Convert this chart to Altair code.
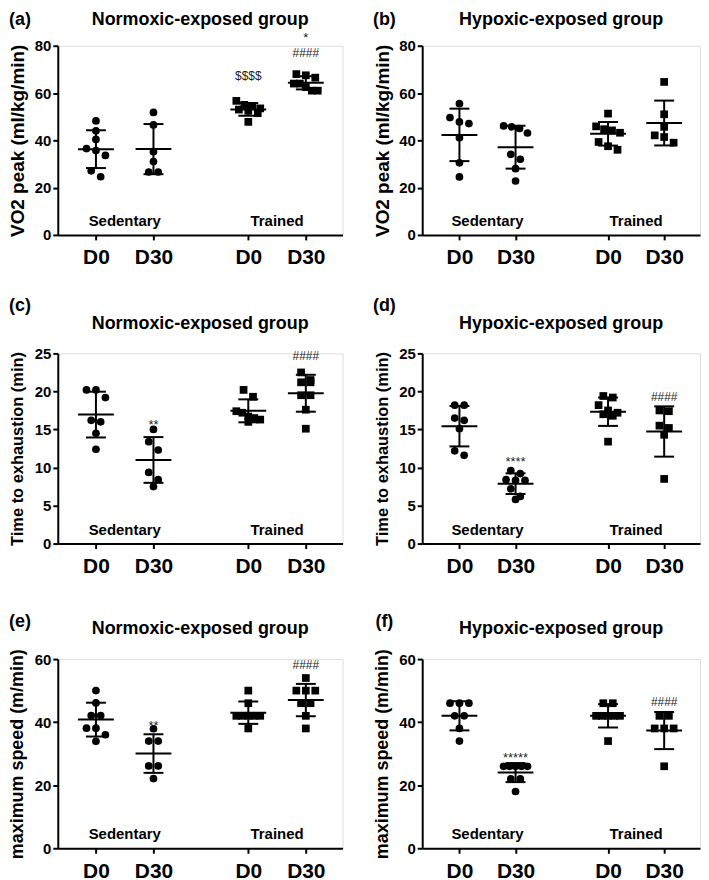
import altair as alt
import numpy as np
import pandas as pd

FONT = "Liberation Sans"

# ---------------- data ----------------
# (a) VO2 peak, normoxic-exposed group
vo2_n_sed_d0 = [48.2, 44.0, 40.4, 36.5, 35.7, 33.6, 27.1, 24.6]
vo2_n_sed_d30 = [51.8, 46.5, 35.2, 31.0, 26.6, 26.6]
vo2_n_tr_d0 = [56.7, 55.0, 54.5, 53.5, 53.0, 52.5, 51.5, 47.8]
vo2_n_tr_d30 = [68.0, 67.5, 66.5, 64.0, 64.0, 62.5, 61.0, 61.0]
# (b) VO2 peak, hypoxic-exposed group
vo2_h_sed_d0 = [55.5, 49.6, 47.8, 47.1, 41.1, 30.5, 24.5]
vo2_h_sed_d30 = [46.1, 45.7, 45.0, 43.1, 34.1, 32.0, 28.0, 22.8]
vo2_h_tr_d0 = [51.3, 45.9, 44.7, 44.2, 43.2, 39.3, 37.5, 36.0]
vo2_h_tr_d30 = [64.7, 51.0, 45.7, 42.1, 41.4, 39.0]
# (c) time to exhaustion, normoxic
tte_n_sed_d0 = [20.2, 20.2, 19.2, 16.2, 16.0, 14.5, 12.4]
tte_n_sed_d30 = [15.0, 13.4, 12.3, 9.35, 8.4, 7.5]
tte_n_tr_d0 = [20.2, 19.3, 17.4, 17.2, 16.7, 16.5, 16.3, 16.0]
tte_n_tr_d30 = [22.5, 21.5, 21.2, 21.2, 19.5, 19.5, 17.6, 15.1]
# (d) time to exhaustion, hypoxic
tte_h_sed_d0 = [18.2, 18.2, 16.5, 16.2, 15.1, 12.2, 11.6]
tte_h_sed_d30 = [9.6, 9.2, 8.4, 8.3, 8.3, 7.2, 6.2, 5.8]
tte_h_tr_d0 = [19.4, 19.2, 18.2, 17.5, 17.2, 17.0, 16.8, 13.4]
tte_h_tr_d30 = [17.5, 17.4, 15.5, 15.2, 14.3, 8.5]
# (e) maximum speed, normoxic
spd_n_sed_d0 = [50.0, 46.1, 42.1, 42.1, 38.1, 38.1, 36.0, 33.9]
spd_n_sed_d30 = [37.9, 34.0, 34.0, 26.1, 26.1, 22.1]
spd_n_tr_d0 = [50.0, 46.0, 42.0, 42.0, 42.0, 42.0, 42.0, 38.0]
spd_n_tr_d30 = [54.0, 50.0, 50.0, 50.0, 46.0, 46.0, 42.0, 38.0]
# (f) maximum speed, hypoxic
spd_h_sed_d0 = [46.0, 46.0, 46.0, 42.0, 42.0, 38.0, 34.0]
spd_h_sed_d30 = [26.0, 26.0, 26.0, 26.0, 26.0, 22.0, 22.0, 18.0]
spd_h_tr_d0 = [46.0, 46.0, 42.0, 42.0, 42.0, 42.0, 42.0, 34.0]
spd_h_tr_d30 = [42.0, 42.0, 38.0, 38.0, 38.0, 26.0]

# significance annotations: (group, text, y value)
ann_a = [("tr_d0", "$$$$", 67.0), ("tr_d30", "####", 77.0), ("tr_d30", "*", 85.0)]
ann_b = []
ann_c = [("sed_d30", "**", 16.1), ("tr_d30", "####", 24.6)]
ann_d = [("sed_d30", "****", 11.3), ("tr_d30", "####", 19.3)]
ann_e = [("sed_d30", "**", 40.0), ("tr_d30", "####", 58.1)]
ann_f = [("sed_d30", "*****", 29.8), ("tr_d30", "####", 46.3)]

titles = {"n": "Normoxic-exposed group", "h": "Hypoxic-exposed group"}
group_labels = ["Sedentary", "Trained"]
tick_text = {"sed_d0": "D0", "sed_d30": "D30", "tr_d0": "D0", "tr_d30": "D30"}

# ---------------- layout helpers ----------------
GROUP_KEYS = ["sed_d0", "sed_d30", "tr_d0", "tr_d30"]
GROUP_POS = {"sed_d0": 13.4, "sed_d30": 33.6, "tr_d0": 66.9, "tr_d30": 87.1}
MEAN_HALF = 18.0   # px
CAP_HALF = 10.0    # px


def swarm(values, ymax, height, width, thr=8.5, step_px=9.5, max_half=12.0):
    ppu = height / ymax
    xu = 100.0 / width
    order = sorted(range(len(values)), key=lambda i: -values[i])
    rows, cur = [], [order[0]]
    for i in order[1:]:
        if (values[cur[0]] - values[i]) * ppu < thr:
            cur.append(i)
        else:
            rows.append(cur)
            cur = [i]
    rows.append(cur)
    offs = [0.0] * len(values)
    for row in rows:
        n = len(row)
        step = step_px if n <= 3 else min(step_px, 2 * max_half / (n - 1))
        for j, i in enumerate(row):
            offs[i] = (j - (n - 1) / 2.0) * step * xu
    return offs


def panel(groups, ymax, ystep, ytitle, ytitle_size, title, title_y, letter, letter_y,
          annots, width, height):
    pts, stats = [], []
    for key in GROUP_KEYS:
        vals = groups[key]
        offs = swarm(vals, ymax, height, width)
        kind = "Sedentary" if key.startswith("sed") else "Trained"
        for v, o in zip(vals, offs):
            pts.append({"kind": kind, "x": GROUP_POS[key] + o, "value": v})
        m = float(np.mean(vals))
        s = float(np.std(vals, ddof=1))
        p = GROUP_POS[key]
        stats.append({"pos": p, "mean": m, "lo": m - s, "hi": m + s,
                      "ml": p - MEAN_HALF * 100 / width, "mr": p + MEAN_HALF * 100 / width,
                      "cl": p - CAP_HALF * 100 / width, "cr": p + CAP_HALF * 100 / width})
    pts = pd.DataFrame(pts)
    st = pd.DataFrame(stats)

    xscale = alt.Scale(domain=[0, 100], nice=False, zero=False)
    xaxis = alt.Axis(values=[GROUP_POS[k] for k in GROUP_KEYS],
                     labelExpr="(datum.value < 20 || (datum.value > 50 && datum.value < 75)) ? 'D0' : 'D30'",
                     title=None, labelFontSize=21, labelPadding=7, labelFont=FONT,
                     labelFontWeight="bold", labelColor="black", tickSize=5,
                     tickWidth=2, tickColor="black", domainWidth=2, domainColor="black",
                     grid=False)
    yscale = alt.Scale(domain=[0, ymax], nice=False, zero=True)
    yaxis = alt.Axis(values=list(range(0, ymax + 1, ystep)), title=ytitle,
                     titleFontSize=ytitle_size, titleFont=FONT, titleFontWeight="bold",
                     titleColor="black", titleAngle=270, titleX=-40, titleY=height / 2,
                     titleAlign="center", titleBaseline="middle",
                     labelFontSize=15, labelFont=FONT, labelFontWeight="bold",
                     labelColor="black", labelPadding=2, tickSize=5, tickWidth=2,
                     tickColor="black", domainWidth=2, domainColor="black", grid=False)

    def X(f):
        return alt.X(f"{f}:Q", scale=xscale, axis=xaxis)

    def Y(f):
        return alt.Y(f"{f}:Q", scale=yscale, axis=yaxis)

    points = alt.Chart(pts).mark_point(filled=True, opacity=1, size=60, color="black").encode(
        x=X("x"), y=Y("value"),
        shape=alt.Shape("kind:N", scale=alt.Scale(domain=group_labels, range=["circle", "square"]),
                        legend=None))
    mean_rule = alt.Chart(st).mark_rule(strokeWidth=2, color="black").encode(
        x=X("ml"), x2="mr", y=Y("mean"))
    sd_rule = alt.Chart(st).mark_rule(strokeWidth=2, color="black").encode(
        x=X("pos"), y=Y("lo"), y2="hi")
    cap_lo = alt.Chart(st).mark_rule(strokeWidth=2, color="black").encode(
        x=X("cl"), x2="cr", y=Y("lo"))
    cap_hi = alt.Chart(st).mark_rule(strokeWidth=2, color="black").encode(
        x=X("cl"), x2="cr", y=Y("hi"))

    gl = pd.DataFrame({"label": group_labels,
                       "xm": [(GROUP_POS["sed_d0"] + GROUP_POS["sed_d30"]) / 2,
                              (GROUP_POS["tr_d0"] + GROUP_POS["tr_d30"]) / 2]})
    glabels = alt.Chart(gl).mark_text(font=FONT, fontSize=15, fontWeight="bold",
                                      color="black", baseline="middle").encode(
        x=X("xm"), y=alt.value(height - 14), text="label:N")

    layers = [points, mean_rule, sd_rule, cap_lo, cap_hi, glabels]

    if annots:
        ad = pd.DataFrame([{"ax": GROUP_POS[k], "t": t, "ay": y,
                            "star": t.startswith("*")} for k, t, y in annots])
        plain = ad[~ad["star"]]
        stars = ad[ad["star"]]
        if len(plain):
            layers.append(alt.Chart(plain).mark_text(font=FONT, fontSize=12, color="#222222",
                                                     baseline="middle").encode(
                x=X("ax"), y=Y("ay"), text="t:N"))
        if len(stars):
            layers.append(alt.Chart(stars).mark_text(font=FONT, fontSize=13, color="#222222",
                                                     baseline="middle", dy=4).encode(
                x=X("ax"), y=Y("ay"), text="t:N"))

    ttl = alt.Chart(pd.DataFrame({"t": [title]})).mark_text(
        font=FONT, fontSize=18, fontWeight="bold", color="black", baseline="middle",
        align="center").encode(x=alt.value(width / 2), y=alt.value(title_y), text="t:N")
    let = alt.Chart(pd.DataFrame({"t": [letter]})).mark_text(
        font=FONT, fontSize=18, fontWeight="bold", color="black", baseline="middle",
        align="center").encode(x=alt.value(-38), y=alt.value(letter_y), text="t:N")
    layers += [ttl, let]
    return alt.layer(*layers).properties(width=width, height=height)


WL, WR = 286, 279
H1, H2, H3 = 190, 191, 190

pa = panel({"sed_d0": vo2_n_sed_d0, "sed_d30": vo2_n_sed_d30, "tr_d0": vo2_n_tr_d0, "tr_d30": vo2_n_tr_d30},
           80, 20, "VO2 peak (ml/kg/min)", 19, titles["n"], -26, "(a)", -26, ann_a, WL, H1)
pb = panel({"sed_d0": vo2_h_sed_d0, "sed_d30": vo2_h_sed_d30, "tr_d0": vo2_h_tr_d0, "tr_d30": vo2_h_tr_d30},
           80, 20, "VO2 peak (ml/kg/min)", 19, titles["h"], -26, "(b)", -26, ann_b, WR, H1)
pc = panel({"sed_d0": tte_n_sed_d0, "sed_d30": tte_n_sed_d30, "tr_d0": tte_n_tr_d0, "tr_d30": tte_n_tr_d30},
           25, 5, "Time to exhaustion (min)", 16.5, titles["n"], -30, "(c)", -48, ann_c, WL, H2)
pd_ = panel({"sed_d0": tte_h_sed_d0, "sed_d30": tte_h_sed_d30, "tr_d0": tte_h_tr_d0, "tr_d30": tte_h_tr_d30},
            25, 5, "Time to exhaustion (min)", 16.5, titles["h"], -30, "(d)", -48, ann_d, WR, H2)
pe = panel({"sed_d0": spd_n_sed_d0, "sed_d30": spd_n_sed_d30, "tr_d0": spd_n_tr_d0, "tr_d30": spd_n_tr_d30},
           60, 20, "maximum speed (m/min)", 18, titles["n"], -30, "(e)", -37, ann_e, WL, H3)
pf = panel({"sed_d0": spd_h_sed_d0, "sed_d30": spd_h_sed_d30, "tr_d0": spd_h_tr_d0, "tr_d30": spd_h_tr_d30},
           60, 20, "maximum speed (m/min)", 18, titles["h"], -30, "(f)", -37, ann_f, WR, H3)

row1 = alt.hconcat(pa, pb, spacing=29)
row2 = alt.hconcat(pc, pd_, spacing=29)
row3 = alt.hconcat(pe, pf, spacing=29)

chart = alt.vconcat(row1, alt.vconcat(row2, row3, spacing=35), spacing=27).properties(
    padding={"left": 0, "top": 0, "right": 0, "bottom": 0}
).configure_view(strokeOpacity=0).configure(background="white")

chart.save("out.html", embed_options={"renderer": "svg", "actions": False})
